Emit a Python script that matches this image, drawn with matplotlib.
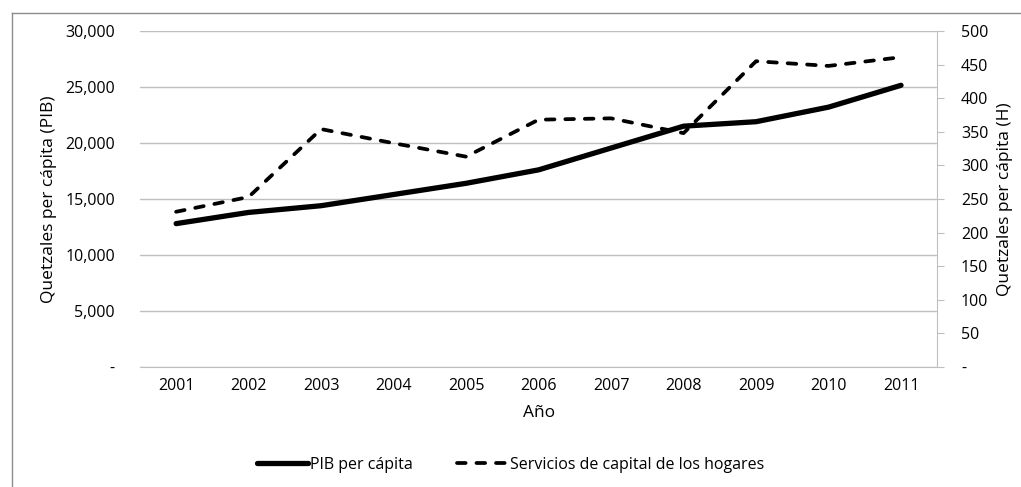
import numpy as np
import matplotlib
matplotlib.use("Agg")
import matplotlib.pyplot as plt
from matplotlib.ticker import FuncFormatter, MultipleLocator
from matplotlib.lines import Line2D

plt.rcParams['font.family'] = ['Open Sans', 'DejaVu Sans']

# datos
anios = ['2001', '2002', '2003', '2004', '2005', '2006', '2007', '2008', '2009', '2010', '2011']
pib = [12800, 13800, 14400, 15400, 16400, 17600, 19550, 21500, 21900, 23200, 25150]
servicios = [231, 253, 354, 333, 313, 368, 370, 348, 455, 448, 461]

fig = plt.figure(figsize=(10.21, 4.87), dpi=100)
ax = fig.add_axes([0.137, 0.2464, 0.781, 0.69])
ax2 = ax.twinx()

x = np.arange(len(anios))
l1, = ax.plot(x, pib, color='black', lw=3.8, solid_capstyle='round', label='PIB per cápita')
l2, = ax2.plot(x, servicios, color='black', lw=2.7, dashes=(2.3, 2.9), dash_capstyle='round',
               label='Servicios de capital de los hogares')

ax.set_xlim(-0.5, len(anios) - 0.5)
ax.set_ylim(0, 30000)
ax2.set_ylim(0, 500)
ax.yaxis.set_major_locator(MultipleLocator(5000))
ax2.yaxis.set_major_locator(MultipleLocator(50))

fmt_l = FuncFormatter(lambda v, p: '-' if v == 0 else f'{v:,.0f}')
fmt_r = FuncFormatter(lambda v, p: '-' if v == 0 else f'{v:.0f}')
ax.yaxis.set_major_formatter(fmt_l)
ax2.yaxis.set_major_formatter(fmt_r)

ax.set_xticks(x)
ax.set_xticklabels(anios)
ax.grid(axis='y', color='#bfbfbf', lw=1)
ax.set_axisbelow(True)

for a in (ax, ax2):
    for s in ('top', 'left', 'right'):
        a.spines[s].set_visible(False)
    a.spines['bottom'].set_color('#bfbfbf')
ax2.spines['right'].set_visible(True)
ax2.spines['right'].set_color('#bfbfbf')
ax2.spines['bottom'].set_visible(False)

ax.tick_params(axis='y', length=0, labelsize=11.5, pad=18, colors='#000000')
ax.tick_params(axis='x', length=0, labelsize=11.5, pad=8)
ax2.tick_params(axis='y', length=5, color='#bfbfbf', labelsize=11.5, pad=12)

ax.set_ylabel('Quetzales per cápita (PIB)', fontsize=12.5, labelpad=6)
ax2.set_ylabel('Quetzales per cápita (H)', fontsize=12.5, labelpad=6)
ax.set_xlabel('Año', fontsize=12.5, labelpad=8)

fig.legend(handles=[l1, l2], loc='center', bbox_to_anchor=(0.5, 0.045), ncol=2,
           frameon=False, fontsize=11.5, handlelength=3.2, handletextpad=0.1,
           columnspacing=2.8)

# borde exterior del grafico (solo arriba e izquierda visibles)
fig.add_artist(Line2D([12 / 1021, 1], [1 - 13 / 487, 1 - 13 / 487], transform=fig.transFigure,
                      color='#8c8c8c', lw=1))
fig.add_artist(Line2D([12 / 1021, 12 / 1021], [0, 1 - 13 / 487], transform=fig.transFigure,
                      color='#8c8c8c', lw=1))

fig.savefig('out.png', dpi=100)
